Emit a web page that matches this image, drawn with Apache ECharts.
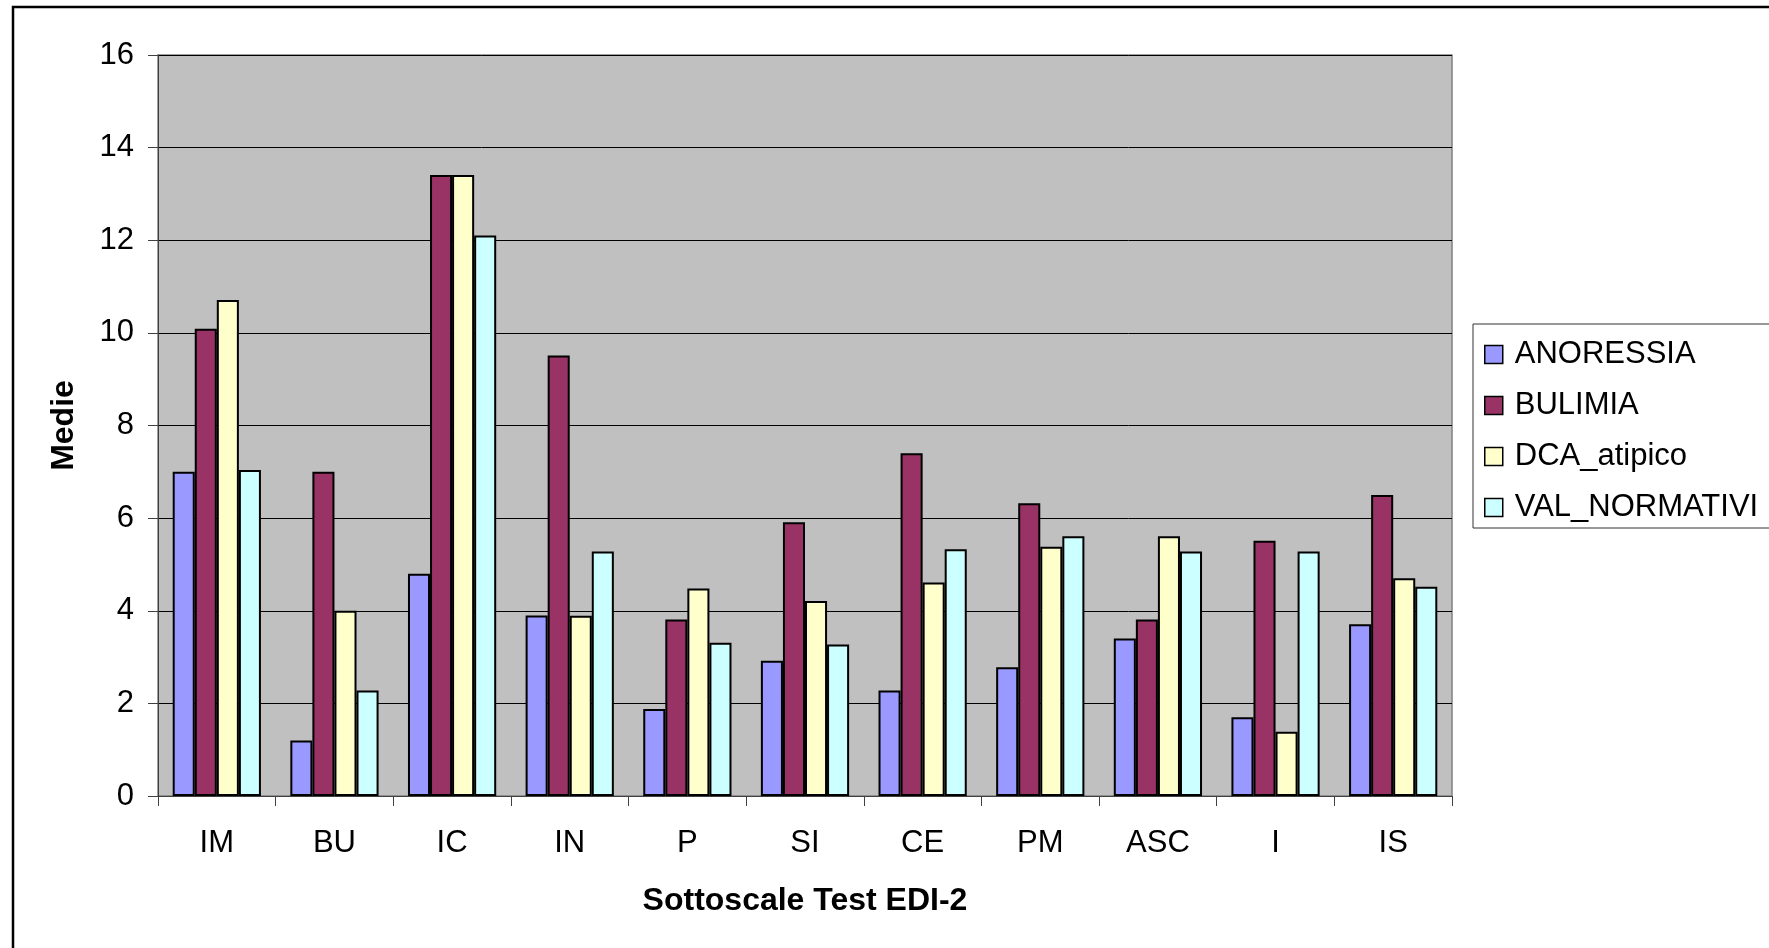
<!DOCTYPE html>
<html>
<head>
<meta charset="utf-8">
<script src="https://cdn.jsdelivr.net/npm/echarts@6/dist/echarts.min.js"></script>
<style>
html,body{margin:0;padding:0;background:#fff;}
#chart{width:1769px;height:948px;}
</style>
</head>
<body>
<div id="chart"></div>
<script>
const categories = ['IM','BU','IC','IN','P','SI','CE','PM','ASC','I','IS'];
const anoressia = [7.0, 1.2, 4.8, 3.9, 1.88, 2.92, 2.28, 2.78, 3.4, 1.7, 3.71];
const bulimia = [10.09, 7.0, 13.41, 9.51, 3.81, 5.91, 7.4, 6.32, 3.81, 5.51, 6.5];
const dcaAtipico = [10.71, 4.0, 13.41, 3.89, 4.48, 4.21, 4.61, 5.38, 5.61, 1.39, 4.7];
const valNormativi = [7.04, 2.28, 12.1, 5.28, 3.31, 3.27, 5.33, 5.61, 5.28, 5.28, 4.52];
const seriesNames = ['ANORESSIA','BULIMIA','DCA_atipico','VAL_NORMATIVI'];
const seriesColors = ['#9999FF','#993366','#FFFFCC','#CCFFFF'];
const yTicks = {min: 0, max: 16, interval: 2};

const FONT = '"Liberation Sans", Arial, sans-serif';
const chart = echarts.init(document.getElementById('chart'), null, {renderer: 'canvas'});
const dataSets = [anoressia, bulimia, dcaAtipico, valNormativi];

chart.setOption({
  animation: false,
  backgroundColor: '#ffffff',
  textStyle: {fontFamily: FONT},
  graphic: [{
    type: 'rect',
    shape: {x: 13, y: 7, width: 1800, height: 1000},
    style: {fill: 'none', stroke: '#000', lineWidth: 2.5},
    silent: true
  }],
  grid: {
    left: 158, top: 55, width: 1294, height: 741,
    show: true, backgroundColor: '#C0C0C0', borderColor: '#808080', borderWidth: 1.5
  },
  legend: {
    orient: 'vertical',
    left: 1473, top: 324,
    padding: [15, 12, 5, 11],
    itemGap: 20,
    itemWidth: 18, itemHeight: 18,
    icon: 'rect',
    borderColor: '#333', borderWidth: 1,
    backgroundColor: '#fff',
    textStyle: {fontFamily: FONT, fontSize: 31, color: '#000', lineHeight: 30, padding: [0,0,0,7]},
    itemStyle: {borderColor: '#000', borderWidth: 1.5},
    data: seriesNames
  },
  xAxis: {
    type: 'category',
    data: categories,
    name: 'Sottoscale Test EDI-2',
    nameLocation: 'middle',
    nameGap: 89,
    nameTextStyle: {fontFamily: FONT, fontSize: 32, fontWeight: 'bold', color: '#000'},
    axisLine: {lineStyle: {color: '#404040', width: 1}},
    axisTick: {show: true, length: 10, lineStyle: {color: '#404040'}},
    axisLabel: {fontFamily: FONT, fontSize: 31, color: '#000', margin: 32},
    splitLine: {show: false}
  },
  yAxis: {
    type: 'value',
    min: yTicks.min, max: yTicks.max, interval: yTicks.interval,
    name: 'Medie',
    nameLocation: 'middle',
    nameGap: 78,
    nameTextStyle: {fontFamily: FONT, fontSize: 32, fontWeight: 'bold', color: '#000'},
    axisLine: {show: true, lineStyle: {color: '#404040', width: 1}},
    axisTick: {show: true, length: 10, lineStyle: {color: '#404040'}},
    axisLabel: {fontFamily: FONT, fontSize: 31, color: '#000', margin: 24},
    splitLine: {show: true, lineStyle: {color: '#000', width: 1}}
  },
  series: seriesNames.map((name, i) => ({
    name: name,
    type: 'bar',
    data: dataSets[i],
    barGap: '0%',
    barCategoryGap: '25%',
    itemStyle: {color: seriesColors[i], borderColor: '#000', borderWidth: 2}
  }))
});
</script>
</body>
</html>
